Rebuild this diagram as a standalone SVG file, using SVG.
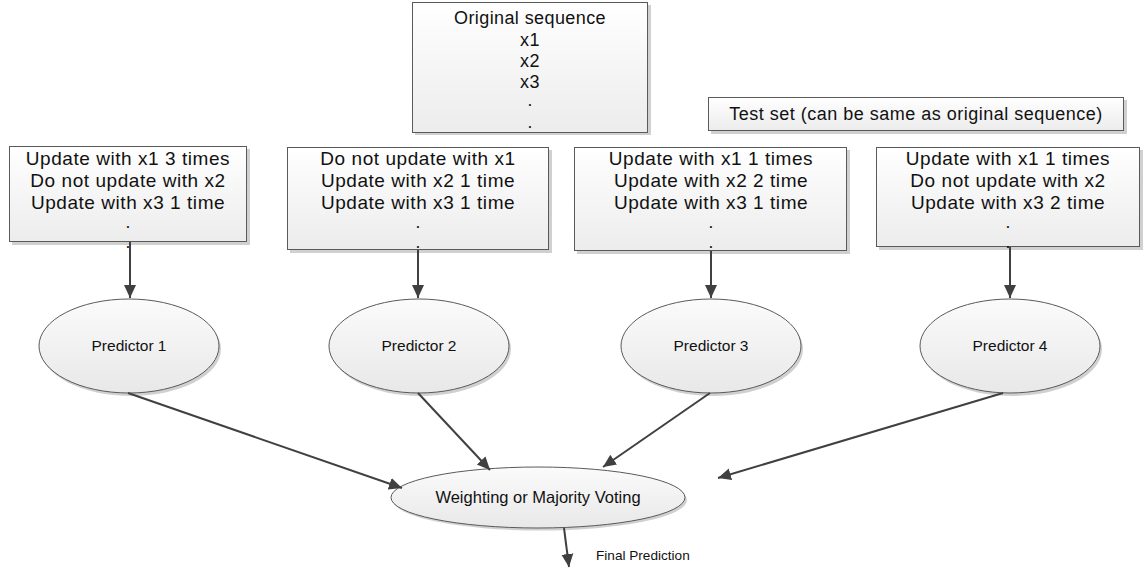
<svg xmlns="http://www.w3.org/2000/svg" width="1146" height="569" viewBox="0 0 1146 569">
<style>
.box{fill:url(#gBox);stroke:#5a5a5a;stroke-width:1}
.sh{fill:#d0d0d0}
.ell{fill:url(#gEll);stroke:#5a5a5a;stroke-width:1}
.t{font-family:"Liberation Sans",Arial,sans-serif;font-size:18px;letter-spacing:0.4px;fill:#111;text-anchor:middle}
.tb{font-family:"Liberation Sans",Arial,sans-serif;font-size:19px;letter-spacing:0.55px;fill:#111;text-anchor:middle}
.dot{font-family:"Liberation Sans",Arial,sans-serif;font-size:12px;font-weight:bold;fill:#111;text-anchor:middle}
.ts{font-family:"Liberation Sans",Arial,sans-serif;font-size:15.5px;fill:#111;text-anchor:middle}
.conn{stroke:#404040;stroke-width:2;fill:none;marker-end:url(#ah)}
</style>
<defs>
<linearGradient id="gBox" x1="0" y1="0" x2="0" y2="1"><stop offset="0" stop-color="#ffffff"/><stop offset="1" stop-color="#ececec"/></linearGradient>
<linearGradient id="gEll" x1="0" y1="0" x2="0" y2="1"><stop offset="0" stop-color="#fbfbfb"/><stop offset="1" stop-color="#e8e8e8"/></linearGradient>
<marker id="ah" markerUnits="userSpaceOnUse" markerWidth="14" markerHeight="14" viewBox="0 0 14 14" refX="13" refY="7" orient="auto"><path d="M0,1 L13,7 L0,13 Z" fill="#404040"/></marker>
</defs>

<g id="original">
<rect class="sh" x="415" y="5" width="236" height="130"/>
<rect class="box" x="412.5" y="2.5" width="235" height="130"/>
<text class="t" x="530" y="24">Original sequence</text>
<text class="t" x="530" y="45.5">x1</text>
<text class="t" x="530" y="66.5">x2</text>
<text class="t" x="530" y="87.5">x3</text>
<text class="dot" x="530" y="106">.</text>
<text class="dot" x="530" y="128">.</text>
</g>

<g id="testset">
<rect class="sh" x="711" y="100" width="416" height="34"/>
<rect class="box" x="708.5" y="97.5" width="415" height="33"/>
<text class="t" x="916" y="120" style="letter-spacing:0.5px">Test set (can be same as original sequence)</text>
</g>

<g id="box1">
<rect class="sh" x="12" y="149" width="238" height="96"/>
<rect class="box" x="9.5" y="146.5" width="237" height="95"/>
<text class="tb" x="128" y="165">Update with x1 3 times</text>
<text class="tb" x="128" y="187">Do not update with x2</text>
<text class="tb" x="128" y="209">Update with x3 1 time</text>
<text class="dot" x="128" y="228">.</text>
<text class="dot" x="128" y="248">.</text>
</g>

<g id="box2">
<rect class="sh" x="290" y="150" width="262" height="103"/>
<rect class="box" x="287.5" y="147.5" width="261" height="102"/>
<text class="tb" x="418" y="165">Do not update with x1</text>
<text class="tb" x="418" y="187">Update with x2 1 time</text>
<text class="tb" x="418" y="209">Update with x3 1 time</text>
<text class="dot" x="418" y="228">.</text>
<text class="dot" x="418" y="248">.</text>
</g>

<g id="box3">
<rect class="sh" x="577" y="150" width="273" height="104"/>
<rect class="box" x="574.5" y="147.5" width="272" height="103"/>
<text class="tb" x="711" y="165">Update with x1 1 times</text>
<text class="tb" x="711" y="187">Update with x2 2 time</text>
<text class="tb" x="711" y="209">Update with x3 1 time</text>
<text class="dot" x="711" y="228">.</text>
<text class="dot" x="711" y="248">.</text>
</g>

<g id="box4">
<rect class="sh" x="879" y="150" width="264" height="100"/>
<rect class="box" x="876.5" y="147.5" width="263" height="99"/>
<text class="tb" x="1008" y="165">Update with x1 1 times</text>
<text class="tb" x="1008" y="187">Do not update with x2</text>
<text class="tb" x="1008" y="209">Update with x3 2 time</text>
<text class="dot" x="1008" y="228">.</text>
<text class="dot" x="1008" y="248">.</text>
</g>

<g id="pred1">
<ellipse class="sh" cx="131" cy="349" rx="90" ry="47"/>
<ellipse class="ell" cx="129" cy="346" rx="90" ry="47"/>
<text class="ts" x="129" y="351">Predictor 1</text>
</g>
<g id="pred2">
<ellipse class="sh" cx="421" cy="349" rx="90" ry="47"/>
<ellipse class="ell" cx="419" cy="346" rx="90" ry="47"/>
<text class="ts" x="419" y="351">Predictor 2</text>
</g>
<g id="pred3">
<ellipse class="sh" cx="713" cy="349" rx="90" ry="47"/>
<ellipse class="ell" cx="711" cy="346" rx="90" ry="47"/>
<text class="ts" x="711" y="351">Predictor 3</text>
</g>
<g id="pred4">
<ellipse class="sh" cx="1012" cy="349" rx="90" ry="47"/>
<ellipse class="ell" cx="1010" cy="346" rx="90" ry="47"/>
<text class="ts" x="1010" y="351">Predictor 4</text>
</g>

<g id="vote">
<ellipse class="sh" cx="540" cy="500" rx="147" ry="30.5"/>
<ellipse class="ell" cx="538" cy="497.5" rx="147" ry="30.5"/>
<text class="t" x="538" y="503" style="font-size:16.5px;letter-spacing:0">Weighting or Majority Voting</text>
</g>

<g id="finallabel">
<text class="ts" x="596" y="560" style="text-anchor:start;font-size:13.6px">Final Prediction</text>
</g>

<g id="connectors">
<line class="conn" x1="130" y1="242" x2="130" y2="298"/>
<line class="conn" x1="418" y1="250" x2="418" y2="298"/>
<line class="conn" x1="711" y1="251" x2="711" y2="298"/>
<line class="conn" x1="1010" y1="247" x2="1010" y2="298"/>
<line class="conn" x1="128" y1="393" x2="402" y2="488"/>
<line class="conn" x1="418" y1="393" x2="490" y2="470"/>
<line class="conn" x1="710" y1="393" x2="603" y2="467"/>
<line class="conn" x1="1003" y1="393" x2="718" y2="478"/>
<line class="conn" x1="564" y1="528" x2="569" y2="567"/>
</g>
</svg>
